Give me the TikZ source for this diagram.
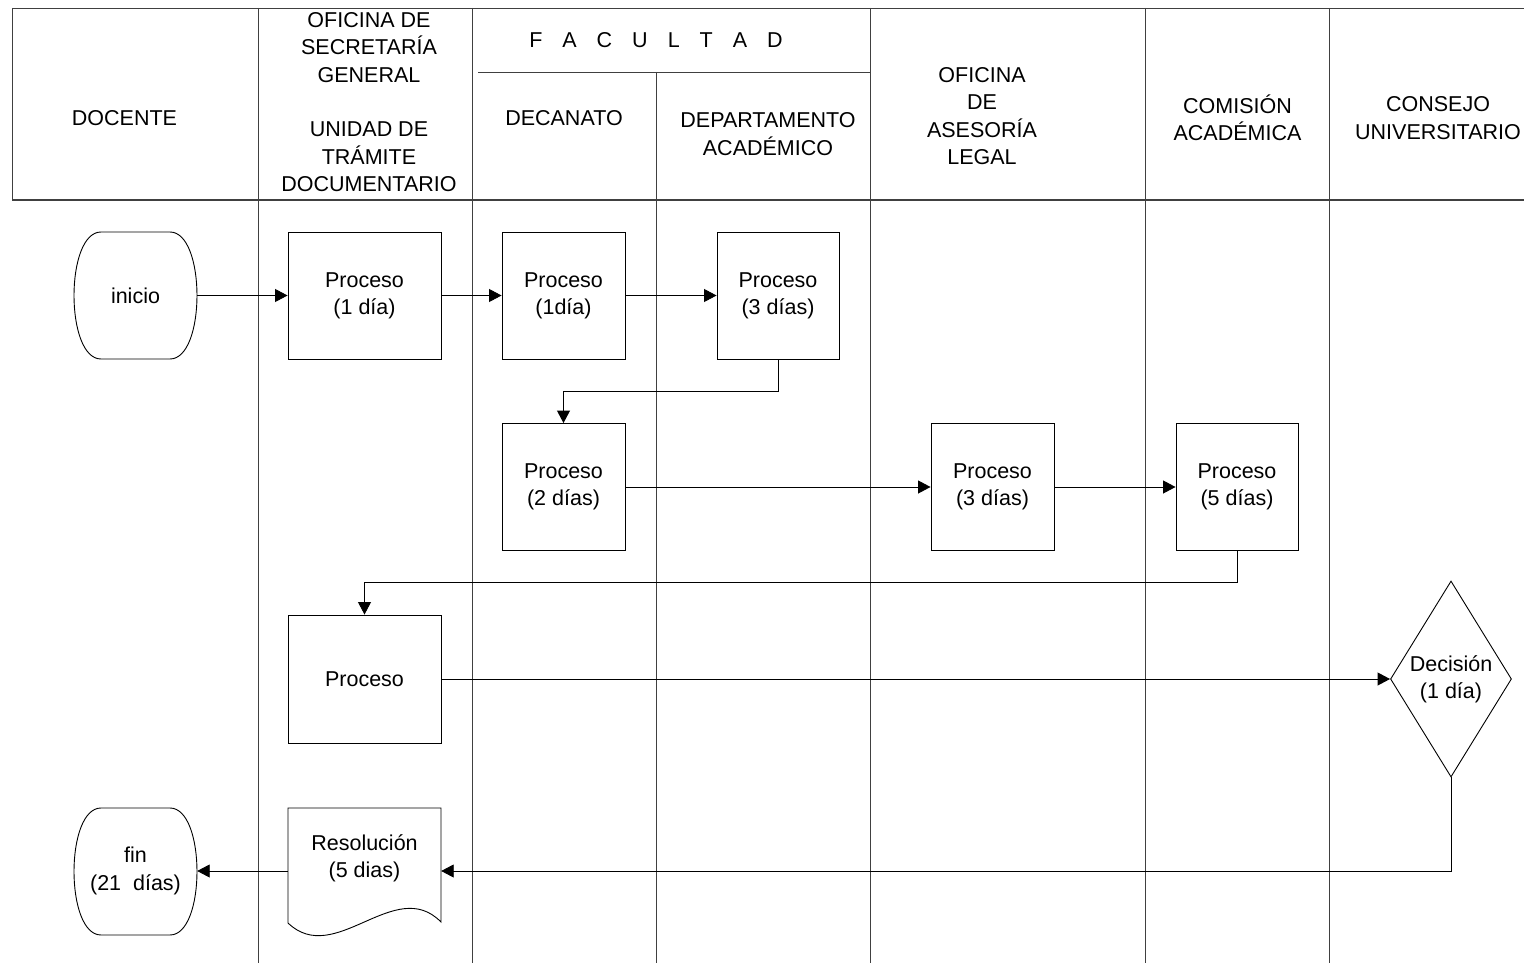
\documentclass[tikz,border=0pt]{standalone}
\usepackage{fontspec}
\setmainfont{Liberation Sans}
\usetikzlibrary{arrows.meta,shapes.geometric}
\begin{document}
\begin{tikzpicture}[x=1pt,y=-1pt,
  gridline/.style={draw=black!75,line width=0.9pt},
  txt/.style={font=\fontsize{21.5}{27.3}\selectfont,align=center,inner sep=0pt},
  procbox/.style={txt,draw,fill=white,line width=0.9pt,minimum height=127pt},
  anchorbox/.style={txt,minimum width=123pt,minimum height=127pt},
  shapeline/.style={draw,fill=white,line width=0.9pt},
  flow/.style={line width=0.9pt,-{Triangle[length=12.5pt,width=13pt]}},
]
\useasboundingbox (0,0) rectangle (1524,963);
% ---- grid ----
\draw[gridline] (12,8) -- (1524,8);
\draw[gridline] (12,8) -- (12,200);
\draw[gridline,line width=1.2pt] (12,200) -- (1524,200);
\draw[gridline] (478,72) -- (870,72);
\foreach \x in {258,472,870,1145,1329} \draw[gridline] (\x,8) -- (\x,963);
\draw[gridline] (656,72) -- (656,963);
% ---- header texts ----
\node[txt] (hdoc) at (124.5,118) {DOCENTE};
\node[txt] (hsec) at (369,102) {OFICINA DE\\SECRETARÍA\\GENERAL\\[27.3pt]UNIDAD DE\\TRÁMITE\\DOCUMENTARIO};
\node[txt] (hfac) at (656,40) {F\hspace{20pt}A\hspace{20pt}C\hspace{20pt}U\hspace{20pt}L\hspace{20pt}T\hspace{20pt}A\hspace{20pt}D};
\node[txt] (hdec) at (564,118) {DECANATO};
\node[txt] (hdep) at (768,134) {DEPARTAMENTO\\ACADÉMICO};
\node[txt] (hase) at (982,116) {OFICINA\\DE\\ASESORÍA\\LEGAL};
\node[txt] (hcom) at (1237.5,118) {COMISIÓN\\ACADÉMICA};
\node[txt] (hcon) at (1438,118) {CONSEJO\\UNIVERSITARIO};
% ---- terminators ----
\draw[shapeline] (101,232) -- (170,232) .. controls (206,232) and (206,359) .. (170,359)
  -- (101,359) .. controls (65,359) and (65,232) .. (101,232) -- cycle;
\node[anchorbox] (inicio) at (135.5,295.5) {inicio};
\draw[shapeline] (101,808) -- (170,808) .. controls (206,808) and (206,935) .. (170,935)
  -- (101,935) .. controls (65,935) and (65,808) .. (101,808) -- cycle;
\node[anchorbox] (fin) at (135.5,871) {fin\\(21\ \ días)};
% ---- process boxes ----
\node[procbox,minimum width=153pt] (p1) at (364.5,295.5) {Proceso\\(1 día)};
\node[procbox,minimum width=123pt] (p2) at (563.5,295.5) {Proceso\\(1día)};
\node[procbox,minimum width=122pt] (p3) at (778,295.5) {Proceso\\(3 días)};
\node[procbox,minimum width=123pt] (p4) at (563.5,487) {Proceso\\(2 días)};
\node[procbox,minimum width=123pt] (p5) at (992.5,487) {Proceso\\(3 días)};
\node[procbox,minimum width=122pt] (p6) at (1237,487) {Proceso\\(5 días)};
\node[procbox,minimum width=153pt,minimum height=128pt] (p7) at (364.5,679) {Proceso};
% ---- decision ----
\node[txt,diamond,draw,fill=white,line width=0.9pt,shape aspect=0.617,
      minimum width=121pt,minimum height=196pt] (dec) at (1451,679) {Decisión\\(1 día)};
% ---- document ----
\draw[shapeline] (288,808) -- (441,808) -- (441,922)
  .. controls (395,875) and (335,968) .. (288,923) -- cycle;
\node[txt,minimum width=153pt] (res) at (364.5,858) {Resolución\\(5 dias)};
% ---- connectors ----
\draw[flow] (inicio.east) -- (p1.west);
\draw[flow] (p1.east) -- (p2.west);
\draw[flow] (p2.east) -- (p3.west);
\draw[flow] (p3.south) -- ++(0,32) -| (p4.north);
\draw[flow] (p4.east) -- (p5.west);
\draw[flow] (p5.east) -- (p6.west);
\draw[flow] (p6.south) -- ++(0,31) -| (p7.north);
\draw[flow] (p7.east) -- (dec.west);
\draw[flow] (dec.south) |- ([yshift=-13pt]res.east);
\draw[flow] ([yshift=-13pt]res.west) -- (fin.east);
\end{tikzpicture}
\end{document}
